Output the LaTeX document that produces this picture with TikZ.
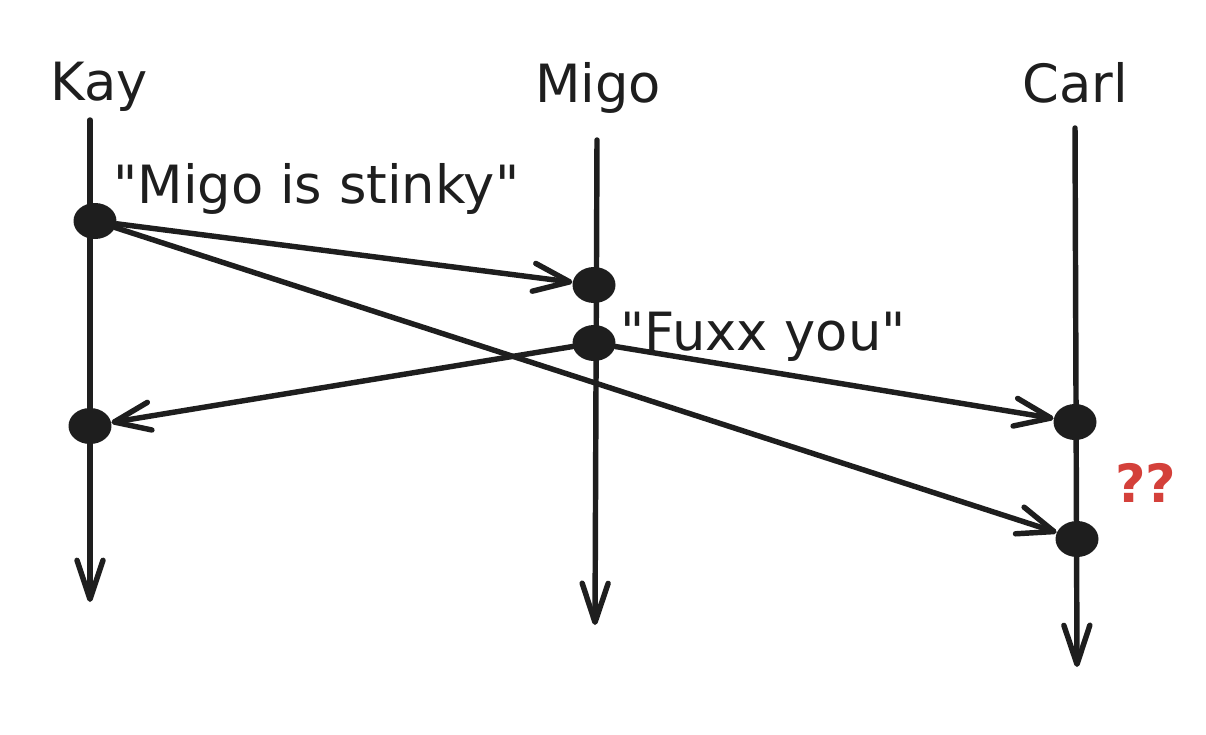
\documentclass[tikz,border=0pt]{standalone}
\usepackage{fontspec}
\setmainfont{DejaVu Sans}[Ligatures=TeXOff]
\usetikzlibrary{arrows.meta, shapes.geometric}
\definecolor{ink}{HTML}{1E1E1E}
\definecolor{huh}{HTML}{D4403A}

\begin{document}
\begin{tikzpicture}[x=0.02cm, y=-0.02cm,
        life/.style={ink, line width=3.1pt, line cap=round,
            -{Straight Barb[length=7.8mm, width=5.2mm, line cap=round, line join=round]}},
        msg/.style={ink, line width=3.1pt, line cap=round,
            -{Straight Barb[length=7.2mm, width=5.6mm, line cap=round, line join=round]}},
        event/.style={ellipse, fill=ink, inner sep=0pt, minimum width=0.86cm, minimum height=0.72cm},
        say/.style={inner sep=0pt, text=ink, font=\fontsize{30}{36}\selectfont}]
                \useasboundingbox (0, 0) rectangle (1206, 734);
                \node [say, anchor=base] (kay) at (99, 100) {Kay};
                \node [say, anchor=base] (migo) at (598, 102) {Migo};
                \node [say, anchor=base] (carl) at (1075, 102) {Carl};
                \coordinate (kaytop) at (90, 120);
                \coordinate (kayend) at (90, 602);
                \coordinate (migotop) at (597, 140);
                \coordinate (migoend) at (595, 625);
                \coordinate (carltop) at (1075, 128);
                \coordinate (carlend) at (1077, 667);
                \draw [life] (kaytop) -- (kayend);
                \draw [life] (migotop) -- (migoend);
                \draw [life] (carltop) -- (carlend);
                \node [event] (k1) at (95, 221) {};
                \node [event] (k2) at (90, 426) {};
                \node [event] (m1) at (594, 285) {};
                \node [event] (m2) at (594, 343) {};
                \node [event] (c1) at (1075, 422) {};
                \node [event] (c2) at (1077, 539) {};
                \draw [msg] (k1) -- (m1);
                \draw [msg] (k1) -- (c2);
                \draw [msg] (m2) -- (k2);
                \draw [msg] (m2) -- (c1);
                \node [say, anchor=base west] (stinky) at (113, 203) {"Migo is stinky"};
                \node [say, anchor=base west] (fuxx) at (620, 350) {"Fuxx you"};
                \node [say, anchor=base west, text=huh] (huhlabel) at (1115, 502) {\bfseries ??};
            \end{tikzpicture}
\end{document}
